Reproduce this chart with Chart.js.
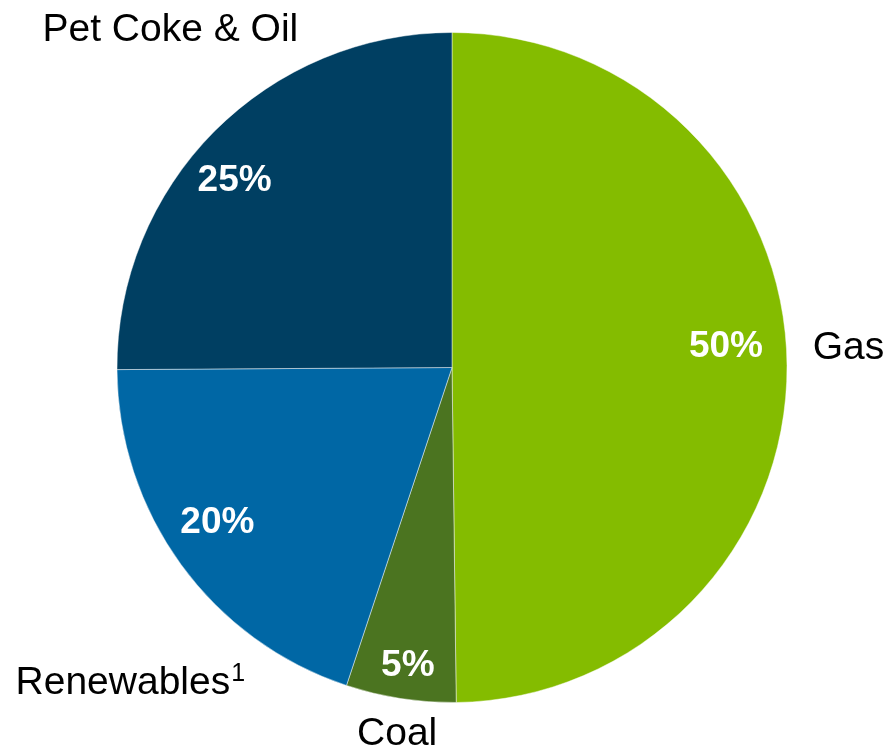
<!DOCTYPE html>
<html>
<head>
<meta charset="utf-8">
<script src="https://cdn.jsdelivr.net/npm/chart.js@4/dist/chart.umd.min.js"></script>
<style>
  html, body { margin: 0; padding: 0; background: #ffffff; }
  #wrap { width: 888px; height: 750px; }
</style>
</head>
<body>
<div id="wrap"><canvas id="c" width="888" height="750"></canvas></div>
<script>
// ---- data ----
const categories = ['Gas', 'Coal', 'Renewables', 'Pet Coke & Oil'];
const shares = [49.8, 5.3, 19.8, 25.1];
const pctLabels = ['50%', '5%', '20%', '25%'];
const outerLabels = ['Gas', 'Coal', 'Renewables', 'Pet Coke & Oil'];
const outerSuperscripts = ['', '', '1', ''];

// ---- styles ----
const sliceColors = ['#84BC00', '#4B7420', '#0067A5', '#003F62'];
// label placement: angle offset (deg) from slice mid-angle, distance as fraction of radius
const innerPlace = [
  { dAng: -4.0, f: 0.82 },
  { dAng: -0.4, f: 0.90 },
  { dAng: 2.5, f: 0.84 },
  { dAng: -4.2, f: 0.855 }
];
const outerPlace = [
  { dAng: -2.6, f: 1.185 },
  { dAng: -0.3, f: 1.105 },
  { dAng: -8.4, f: 1.344 },
  { dAng: 5.4, f: 1.314 }
];

const FONT = '"Liberation Sans", Arial, Helvetica, sans-serif';

const labelPlugin = {
  id: 'sliceLabels',
  afterDatasetsDraw(chart) {
    const ctx = chart.ctx;
    const meta = chart.getDatasetMeta(0);
    meta.data.forEach((arc, i) => {
      const p = arc.getProps(['x', 'y', 'startAngle', 'endAngle', 'outerRadius'], true);
      const mid = (p.startAngle + p.endAngle) / 2;
      // inner percentage label
      const ia = mid + innerPlace[i].dAng * Math.PI / 180;
      const ir = p.outerRadius * innerPlace[i].f;
      ctx.save();
      ctx.fillStyle = '#ffffff';
      ctx.font = 'bold 37px ' + FONT;
      ctx.textAlign = 'center';
      ctx.textBaseline = 'middle';
      ctx.fillText(pctLabels[i], p.x + Math.cos(ia) * ir, p.y + Math.sin(ia) * ir);
      // outer category label
      const oa = mid + outerPlace[i].dAng * Math.PI / 180;
      const or = p.outerRadius * outerPlace[i].f;
      const cx = p.x + Math.cos(oa) * or;
      const cy = p.y + Math.sin(oa) * or;
      ctx.fillStyle = '#000000';
      ctx.font = '39px ' + FONT;
      const mainW = ctx.measureText(outerLabels[i]).width;
      let supW = 0;
      if (outerSuperscripts[i]) {
        ctx.font = '25px ' + FONT;
        supW = ctx.measureText(outerSuperscripts[i]).width + 1;
      }
      const left = cx - (mainW + supW) / 2;
      ctx.font = '39px ' + FONT;
      ctx.textAlign = 'left';
      ctx.textBaseline = 'middle';
      ctx.fillText(outerLabels[i], left, cy + 1);
      if (outerSuperscripts[i]) {
        ctx.font = '25px ' + FONT;
        ctx.fillText(outerSuperscripts[i], left + mainW + 1, cy - 8);
      }
      ctx.restore();
    });
  }
};

new Chart(document.getElementById('c'), {
  type: 'pie',
  data: {
    labels: categories,
    datasets: [{
      data: shares,
      backgroundColor: sliceColors,
      borderColor: 'rgba(255,255,255,0.45)',
      borderWidth: 1
    }]
  },
  options: {
    responsive: false,
    animation: false,
    devicePixelRatio: 1,
    layout: { padding: { left: 116, right: 100, top: 32, bottom: 47 } },
    plugins: {
      legend: { display: false },
      tooltip: { enabled: false }
    }
  },
  plugins: [labelPlugin]
});
</script>
</body>
</html>
